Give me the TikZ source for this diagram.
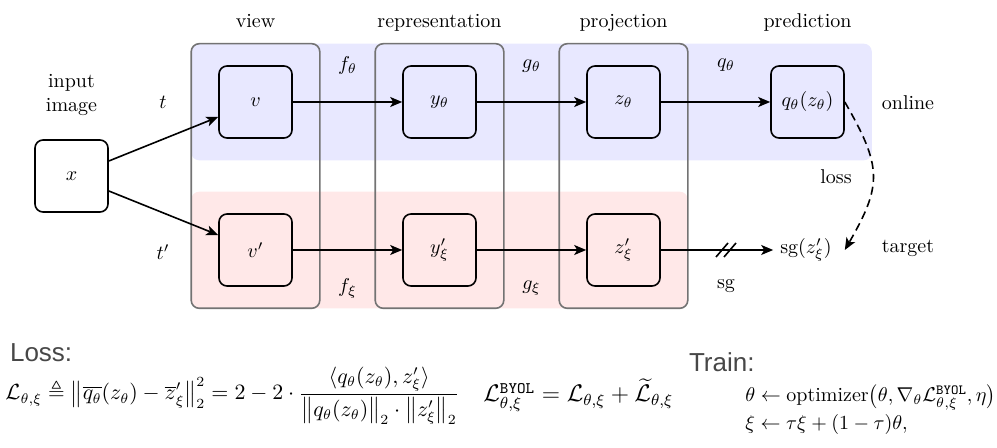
\documentclass[tikz,border=0pt]{standalone}
\usepackage{amsmath,amssymb}
\usepackage{fontspec}
\newfontfamily\slidefont{Liberation Sans}
\usepackage{tikz}
\usetikzlibrary{arrows.meta,positioning,fit,backgrounds}

\begin{document}
\begin{tikzpicture}[
    x=0.5pt, y=-0.5pt,
    box/.style={
        rectangle,
        rounded corners=4pt,
        draw,
        thick,
        minimum width=36.5pt,
        minimum height=36pt,
        align=center,
        inner sep=1pt
    },
    band/.style={rounded corners=4pt, inner xsep=13.5pt, inner ysep=10.75pt},
    column/.style={band, draw=black!55, thick},
    arrow/.style={-{Stealth[length=6pt,width=5pt,inset=1.5pt]}, thick},
    heading/.style={font=\slidefont\fontsize{13}{15}\selectfont, text=black!72},
    eqn/.style={anchor=base west, inner sep=0pt, font=\fontsize{10}{13}\selectfont}
]
\useasboundingbox (0,0) rectangle (997,448);

% Nodes
\node[box] (img) at (71.5,176) {$x$};
\node[box] (v) at (255.5,102) {$v$};
\node[box] (yon) at (439.5,102) {$y_\theta$};
\node[box] (zon) at (623.5,102) {$z_\theta$};
\node[box] (pred) at (807.5,102) {$q_\theta(z_\theta)$};
\node[box] (vt) at (255.5,250) {$v'$};
\node[box] (ytg) at (439.5,250) {$y'_\xi$};
\node[box] (ztg) at (623.5,250) {$z'_\xi$};
\node (sgz) at (806,250) {$\mathrm{sg}(z'_\xi)$};

% Bands and columns
\begin{scope}[on background layer]
    \node[band, fill=blue!9, fit=(v)(pred)] (onband) {};
    \node[band, fill=red!9, fit=(vt)(ztg)] (tgband) {};
    \node[column, fit=(v)(vt)] (colview) {};
    \node[column, fit=(yon)(ytg)] (colrep) {};
    \node[column, fit=(zon)(ztg)] (colproj) {};
\end{scope}

% Headings
\node[anchor=base] (hview) at ([yshift=7.5pt]colview.north) {view};
\node[anchor=base] (hrep) at (hview.base -| colrep) {representation};
\node[anchor=base] (hproj) at (hview.base -| colproj) {projection};
\node[anchor=base] (hpred) at (hview.base -| pred) {prediction};
\node[align=center] (himg) at (71.5,95) {input\\image};
\node (honline) at (908,103) {online};
\node (htarget) at (908,248) {target};

% Function labels
\node (tlab) at (163,102) {$t$};
\node (tplab) at (163,252) {$t'$};
\node (ftheta) at (347.5,66) {$f_\theta$};
\node (gtheta) at (531.5,66) {$g_\theta$};
\node (qtheta) at (726,65) {$q_\theta$};
\node (fxi) at (347.5,288) {$f_\xi$};
\node (gxi) at (531.5,288) {$g_\xi$};
\node (sglab) at (726,286) {sg};
\node (losslab) at (836,177) {loss};

% Main flow arrows
\draw[arrow] (img) -- (v);
\draw[arrow] (img) -- (vt);
\draw[arrow] (v) -- (yon);
\draw[arrow] (yon) -- (zon);
\draw[arrow] (zon) -- (pred);
\draw[arrow] (vt) -- (ytg);
\draw[arrow] (ytg) -- (ztg);
\draw[arrow] (ztg) -- (sgz);

% Stop-gradient mark
\coordinate (cut) at (726,250);
\draw[thick] ([xshift=-5pt,yshift=-3.5pt]cut) -- ++(6pt,7pt);
\draw[thick] ([xshift=-1pt,yshift=-3.5pt]cut) -- ++(6pt,7pt);

% Loss
\draw[arrow, dash pattern=on 4pt off 2.5pt] (pred.east) to[out=-60, in=60, looseness=1.3] ([xshift=3pt]sgz.east);

% Equations
\node[heading, anchor=base west] (losshead) at (3,362) {Loss:};
\node[eqn, font=\fontsize{10.7}{13}\selectfont] (losseq) at (5,400) {$\displaystyle
    \mathcal{L}_{\theta,\xi} \triangleq \big\|\overline{q_\theta}(z_\theta)-\overline{z}'_\xi\big\|_2^2
    = 2-2\cdot\frac{\langle q_\theta(z_\theta), z'_\xi\rangle}{\big\|q_\theta(z_\theta)\big\|_2\cdot\big\|z'_\xi\big\|_2}$};
\node[eqn, font=\fontsize{11.5}{14}\selectfont] (byoleq) at (483,402) {$\mathcal{L}^{\texttt{BYOL}}_{\theta,\xi} = \mathcal{L}_{\theta,\xi} + \widetilde{\mathcal{L}}_{\theta,\xi}$};
\node[heading, anchor=base west] (trainhead) at (682,372) {Train:};
\node[eqn] (traintheta) at (745,402) {$\theta \leftarrow \mathrm{optimizer}\big(\theta, \nabla_\theta\mathcal{L}^{\texttt{BYOL}}_{\theta,\xi}, \eta\big)$};
\node[eqn] (trainxi) at (745,430) {$\xi \leftarrow \tau\xi + (1-\tau)\theta,$};

\end{tikzpicture}
\end{document}
